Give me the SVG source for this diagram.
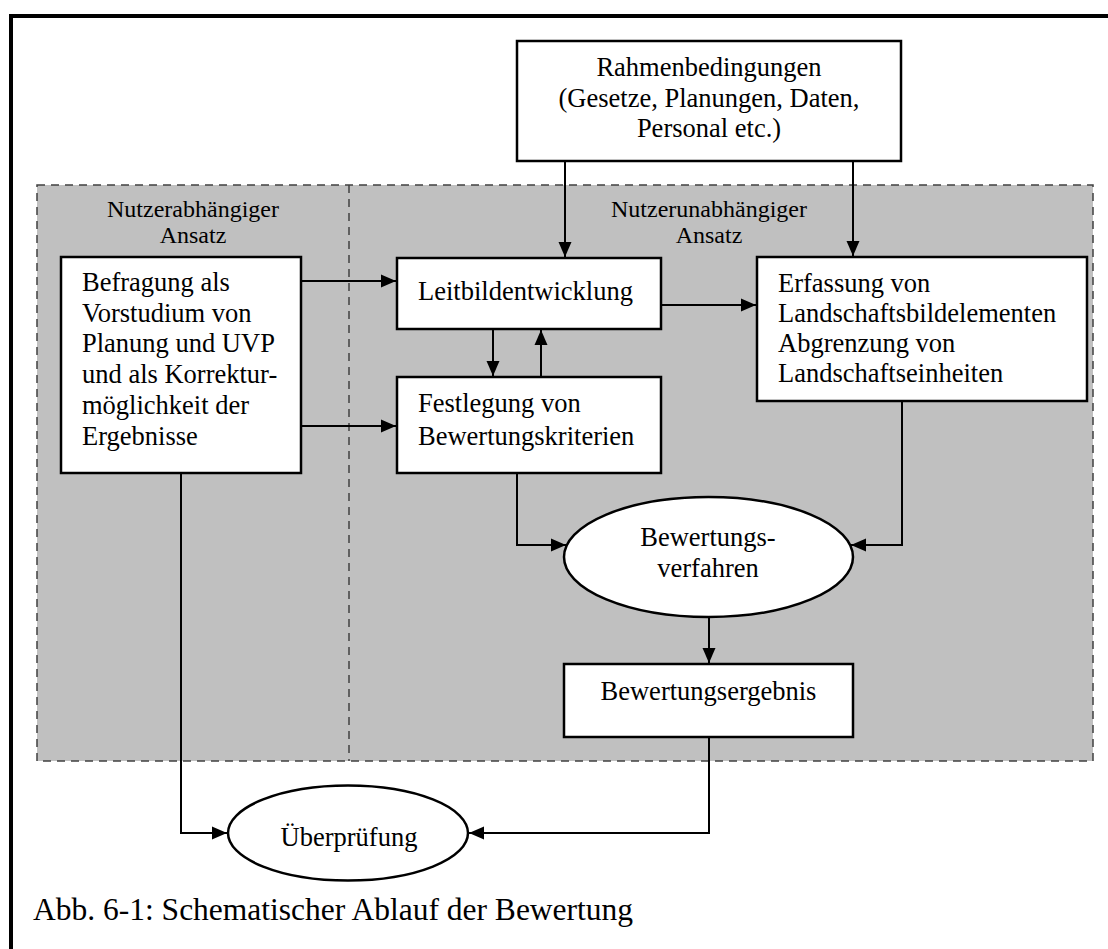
<svg xmlns="http://www.w3.org/2000/svg" width="1108" height="949" viewBox="0 0 1108 949">
<style>
  .box { fill: #ffffff; stroke: #000000; stroke-width: 2.5; }
  .t { font-family: "Liberation Serif", "Times New Roman", serif; font-size: 26.5px; fill: #000000; }
  .tc { text-anchor: middle; }
  .lbl { font-family: "Liberation Serif", "Times New Roman", serif; font-size: 24px; fill: #000000; text-anchor: middle; }
  .cap { font-family: "Liberation Serif", "Times New Roman", serif; font-size: 31.5px; fill: #000000; }
  .zone { fill: #c0c0c0; stroke: #404040; stroke-width: 1.5; stroke-dasharray: 8 6; }
  .div { fill: none; stroke: #404040; stroke-width: 1.5; stroke-dasharray: 8 6; }
  .con { fill: none; stroke: #000000; stroke-width: 2; marker-end: url(#arr); }
  .line { fill: none; stroke: #000000; stroke-width: 2; }
</style>
<defs>
  <marker id="arr" markerUnits="userSpaceOnUse" markerWidth="16" markerHeight="14" refX="15" refY="7" orient="auto">
    <path d="M0,0.5 L15,7 L0,13.5 Z" fill="#000000"/>
  </marker>
</defs>
<rect x="0" y="0" width="1108" height="949" fill="#ffffff"/>
<path d="M11,952 L11,16 L1112,16" fill="none" stroke="#000000" stroke-width="4"/>

<g id="zones">
  <rect class="zone" x="37" y="185" width="1056" height="576"/>
  <line class="div" x1="349" y1="185" x2="349" y2="761"/>
  <text class="lbl" x="193" y="217">Nutzerabhängiger</text>
  <text class="lbl" x="193" y="243">Ansatz</text>
  <text class="lbl" x="709" y="217">Nutzerunabhängiger</text>
  <text class="lbl" x="709" y="243">Ansatz</text>
</g>

<g id="connectors">
  <line class="con" x1="565" y1="161" x2="565" y2="257"/>
  <line class="con" x1="853" y1="161" x2="853" y2="256"/>
  <line class="con" x1="301" y1="281" x2="396" y2="281"/>
  <line class="con" x1="301" y1="426" x2="396" y2="426"/>
  <line class="con" x1="661" y1="305" x2="756" y2="305"/>
  <line class="con" x1="493" y1="329" x2="493" y2="376"/>
  <line class="con" x1="541" y1="377" x2="541" y2="330"/>
  <polyline class="con" points="517,473 517,545 566,545"/>
  <polyline class="con" points="902,401 902,545 851,545"/>
  <line class="con" x1="709" y1="617" x2="709" y2="663"/>
  <polyline class="con" points="181,473 181,833 227,833"/>
  <polyline class="con" points="709,737 709,833 469,833"/>
</g>

<g id="rahmen">
  <rect class="box" x="517" y="41" width="384" height="120" stroke-width="3"/>
  <text class="t tc" x="709" y="76">Rahmenbedingungen</text>
  <text class="t tc" x="709" y="107">(Gesetze, Planungen, Daten,</text>
  <text class="t tc" x="709" y="137">Personal etc.)</text>
</g>

<g id="befragung">
  <rect class="box" x="61" y="257" width="240" height="216"/>
  <text class="t" x="82" y="291">Befragung als</text>
  <text class="t" x="82" y="322">Vorstudium von</text>
  <text class="t" x="82" y="352">Planung und UVP</text>
  <text class="t" x="82" y="383">und als Korrektur-</text>
  <text class="t" x="82" y="414">möglichkeit der</text>
  <text class="t" x="82" y="445">Ergebnisse</text>
</g>

<g id="leitbild">
  <rect class="box" x="397" y="258" width="264" height="71"/>
  <text class="t" x="418" y="300">Leitbildentwicklung</text>
</g>

<g id="festlegung">
  <rect class="box" x="397" y="377" width="264" height="96"/>
  <text class="t" x="418" y="412">Festlegung von</text>
  <text class="t" x="418" y="445">Bewertungskriterien</text>
</g>

<g id="erfassung">
  <rect class="box" x="757" y="257" width="330" height="144"/>
  <text class="t" x="778" y="292">Erfassung von</text>
  <text class="t" x="778" y="322">Landschaftsbildelementen</text>
  <text class="t" x="778" y="352">Abgrenzung von</text>
  <text class="t" x="778" y="382">Landschaftseinheiten</text>
</g>

<g id="verfahren">
  <ellipse class="box" cx="708.5" cy="557" rx="144.5" ry="60"/>
  <text class="t tc" x="708" y="546">Bewertungs-</text>
  <text class="t tc" x="708" y="577">verfahren</text>
</g>

<g id="ergebnis">
  <rect class="box" x="564" y="664" width="289" height="73"/>
  <text class="t tc" x="708.5" y="700">Bewertungsergebnis</text>
</g>

<g id="ueberpruefung">
  <ellipse class="box" cx="348" cy="833" rx="120" ry="47.5"/>
  <text class="t tc" x="349" y="846">Überprüfung</text>
</g>

<text class="cap" x="33" y="920">Abb. 6-1: Schematischer Ablauf der Bewertung</text>
</svg>
